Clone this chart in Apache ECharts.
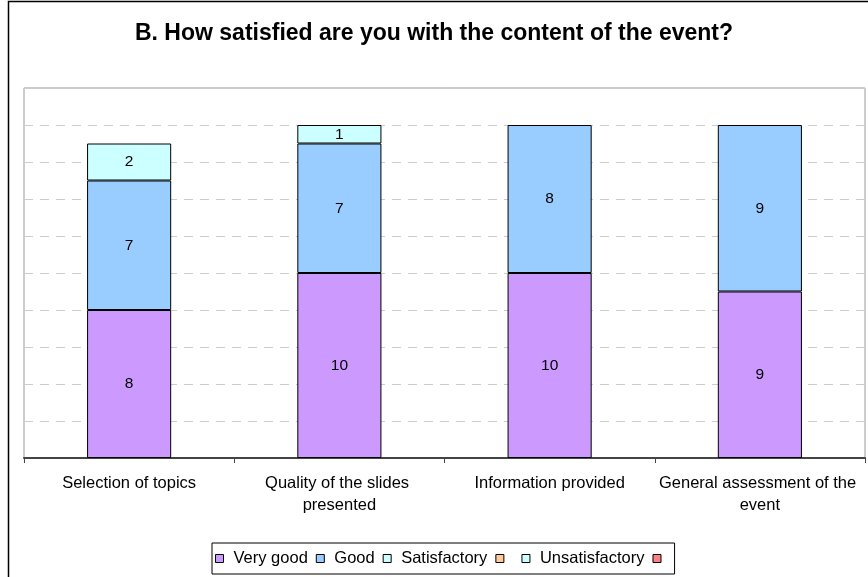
<!DOCTYPE html>
<html>
<head>
<meta charset="utf-8">
<script src="https://cdn.jsdelivr.net/npm/echarts@6/dist/echarts.min.js"></script>
<style>
html,body{margin:0;padding:0;background:#fff;}
#chart{width:868px;height:577px;}
</style>
</head>
<body>
<div id="chart"></div>
<script>
const title = 'B. How satisfied are you with the content of the event?';
const categories = ['Selection of topics', 'Quality of the slides presented', 'Information provided', 'General assessment of the event'];
const veryGood = [8, 10, 10, 9];
const good = [7, 7, 8, 9];
const satisfactory = [2, 1, null, null];
const blankA = [null, null, null, null];
const unsatisfactory = [null, null, null, null];
const blankB = [null, null, null, null];
const seriesNames = ['Very good', 'Good', 'Satisfactory', '_a', 'Unsatisfactory', '_b'];
const seriesData = [veryGood, good, satisfactory, blankA, unsatisfactory, blankB];
const colors = ['#CC99FF', '#99CCFF', '#CCFFFF', '#FFCC99', '#CCFFFF', '#FF8080'];

const FONT = '"Liberation Sans", Arial, sans-serif';
const chart = echarts.init(document.getElementById('chart'), null, {renderer: 'canvas'});
const series = seriesNames.map((n, i) => ({
  name: n,
  type: 'bar',
  stack: 'total',
  barWidth: '40%',
  data: seriesData[i],
  itemStyle: {color: colors[i], borderColor: '#000', borderWidth: 1},
  emphasis: {disabled: true},
  label: {
    show: true, position: 'inside', color: '#000', fontSize: 15.5, fontFamily: FONT,
    formatter: p => (p.value ? String(p.value) : '')
  }
}));

const legendData = seriesNames.map(n => (n.charAt(0) === '_'
  ? {name: n, textStyle: {padding: [0, 0, 0, 0]}}
  : {name: n}));

chart.setOption({
  animation: false,
  backgroundColor: '#fff',
  title: {
    text: title, left: 'center', top: 17,
    textStyle: {fontSize: 23, fontWeight: 'bold', color: '#000', fontFamily: FONT}
  },
  graphic: [{
    type: 'rect', shape: {x: 8.5, y: 1.5, width: 870, height: 590},
    style: {fill: null, stroke: '#000', lineWidth: 1.5}, silent: true, z: 100
  }],
  grid: {left: 24, right: 3, top: 88, bottom: 119, show: true, borderColor: '#999', borderWidth: 1, containLabel: false},
  legend: {
    data: legendData, left: 212, top: 543,
    borderColor: '#000', borderWidth: 1, padding: [7, 4, 7, 3],
    itemWidth: 8, itemHeight: 8, itemGap: 8, icon: 'rect',
    itemStyle: {borderColor: '#000', borderWidth: 1},
    textStyle: {fontSize: 16.5, color: '#000', fontFamily: FONT, padding: [0, 0, 0, 5]},
    formatter: n => (n.charAt(0) === '_' ? '\u00a0' : n),
    selectedMode: false
  },
  xAxis: {
    type: 'category', data: categories,
    axisLine: {lineStyle: {color: '#444', width: 2}},
    axisTick: {show: true, length: 5, lineStyle: {color: '#444'}},
    axisLabel: {
      color: '#000', fontSize: 16.5, fontFamily: FONT, margin: 14,
      width: 208, overflow: 'break', lineHeight: 22, interval: 0
    }
  },
  yAxis: {
    type: 'value', min: 0, max: 20, interval: 2,
    axisLabel: {show: false}, axisLine: {show: false}, axisTick: {show: false},
    splitLine: {lineStyle: {color: '#ccc', type: [9, 7]}}
  },
  series: series
});
</script>
</body>
</html>
